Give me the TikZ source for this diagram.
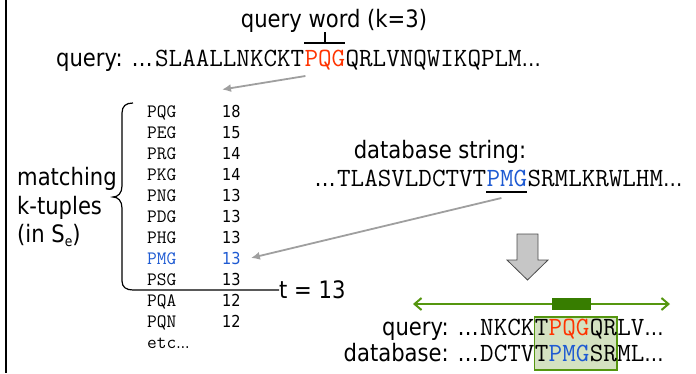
\documentclass[tikz,border=0pt]{standalone}
\usepackage{fontspec}
\newfontfamily\lblfont{DejaVu Sans}[FakeStretch=0.88]
\usetikzlibrary{arrows.meta,backgrounds,calc}
\definecolor{qred}{RGB}{255,51,0}
\definecolor{dblue}{RGB}{30,90,210}
\definecolor{hitgreen}{RGB}{85,150,15}
\definecolor{bargreen}{RGB}{55,125,0}
\definecolor{boxgreen}{RGB}{212,226,193}
\tikzset{
  lbl/.style={font=\lblfont\fontsize{24}{28.5}\selectfont, inner sep=0pt},
  seq/.style={font=\ttfamily\fontsize{26.3}{28}\selectfont, inner sep=0pt, anchor=base west},
  tup/.style={font=\ttfamily\fontsize{18.9}{20}\selectfont, inner sep=0pt, anchor=base west},
  score/.style={font=\lblfont\fontsize{16.5}{20}\selectfont, inner sep=0pt, anchor=base west},
  link/.style={draw=gray!75, line width=1.8pt, -{Latex[length=9pt,width=8pt]}},
}
\begin{document}
\begin{tikzpicture}[x=1pt, y=-1pt]
  \useasboundingbox (0,0) rectangle (696,373);
  \draw[line width=1.5pt] (6,0) -- (6,373);

  % query line
  \node[seq] (qa) at (155,66) {SLAALLNKCKT};
  \node[lbl, anchor=base east] (ql) at ([xshift=-2pt]qa.base west) {query: …};
  \node[seq, text=qred] (qw) at (qa.base east) {PQG};
  \node[seq] (qb) at (qw.base east) {QRLVNQWIKQPLM{\lblfont\fontsize{22}{28}\selectfont …}};
  \node[lbl, anchor=base] (kw) at (334,27) {query word (k=3)};
  \draw[line width=1.2pt] (qw.west |- 0,43) -- (qw.east |- 0,43)
       (qw.center |- 0,43) -- (qw.center |- kw.south);

  % k-tuples and scores
  \foreach \t/\s/\c [count=\i] in {PQG/18/black, PEG/15/black, PRG/14/black,
      PKG/14/black, PNG/13/black, PDG/13/black, PHG/13/black, PMG/13/dblue,
      PSG/13/black, PQA/12/black, PQN/12/black}
  {
    \node[tup, text=\c] (t\i) at (147,{96+21*\i}) {\t};
    \node[score, text=\c] (s\i) at (222,{96+21*\i}) {\s};
  }
  \node[tup] (t12) at (147,348) {etc{\lblfont\fontsize{15}{20}\selectfont …}};

  % brace and threshold
  \node[lbl, anchor=west] (thr) at (279,290) {t = 13};
  \draw[line width=1.2pt] (133,103) .. controls (126,103) and (122,106) .. (122,113)
       -- (122,186) .. controls (122,193) and (118,197) .. (113,197)
       .. controls (118,197) and (122,201) .. (122,208)
       -- (122,281) .. controls (122,287) and (126,290) .. (133,290) -- (thr.west);
  \node[lbl, align=left, anchor=west] (mk) at (17,207) {matching\\k-tuples\\(in S\raisebox{-4pt}{\fontsize{14}{14}\selectfont e})};

  % database string
  \node[lbl, anchor=base] (dbl) at (440,158) {database string:};
  \node[seq] (da) at (337,186) {TLASVLDCTVT};
  \node[lbl, anchor=base east] (dl) at ([xshift=-1pt]da.base west) {…};
  \node[seq, text=dblue] (dw) at (da.base east) {PMG};
  \node[seq] (db) at (dw.base east) {SRMLKRWLHM{\lblfont\fontsize{22}{28}\selectfont …}};
  \draw[line width=1.2pt] ($(dw.base west)+(0,6)$) -- ($(dw.base east)+(0,6)$);

  % arrows to the list
  \coordinate (qtip) at ($(s1.north west)+(0,-15)$);
  \draw[link] ($(qw.base west)+(1,10)$) -- (qtip);
  \coordinate (dtip) at ($(s8.east)+(10,0)$);
  \draw[link] ($(dw.base west)+(15,12)$) -- (dtip);

  % extension
  \filldraw[fill=gray!45, draw=gray!60!black, line width=0.8pt]
       (517,234) -- (538,234) -- (538,260) -- (548,260) -- (527.5,280) -- (507,260) -- (517,260) -- cycle;
  \draw[hitgreen, line width=2pt, {Straight Barb[length=7pt,width=12pt]}-{Straight Barb[length=7pt,width=12pt]}]
       (413,304) -- (670,304);
  \fill[bargreen] (552,298) rectangle (591,310);

  % aligned hit
  \node[seq] (bqa) at (480,335) {NKCK};
  \node[lbl, anchor=base east] (bql) at ([xshift=-1pt]bqa.base west) {query: …};
  \node[seq] (bqt) at (bqa.base east) {T};
  \node[seq, text=qred] (bqw) at (bqt.base east) {PQG};
  \node[seq] (bqr) at (bqw.base east) {QR};
  \node[seq] (bqe) at (bqr.base east) {LV{\lblfont\fontsize{22}{28}\selectfont …}};
  \node[seq] (bda) at (480,361) {DCTV};
  \node[lbl, anchor=base east] (bdl) at ([xshift=-1pt]bda.base west) {database: …};
  \node[seq] (bdt) at (bda.base east) {T};
  \node[seq, text=dblue] (bdw) at (bdt.base east) {PMG};
  \node[seq] (bdr) at (bdw.base east) {SR};
  \node[seq] (bde) at (bdr.base east) {ML{\lblfont\fontsize{22}{28}\selectfont …}};
  \begin{scope}[on background layer]
    \draw[hitgreen, fill=boxgreen, line width=1.2pt] (bqt.west |- 0,317) rectangle (bdr.east |- 0,370);
  \end{scope}
\end{tikzpicture}
\end{document}
